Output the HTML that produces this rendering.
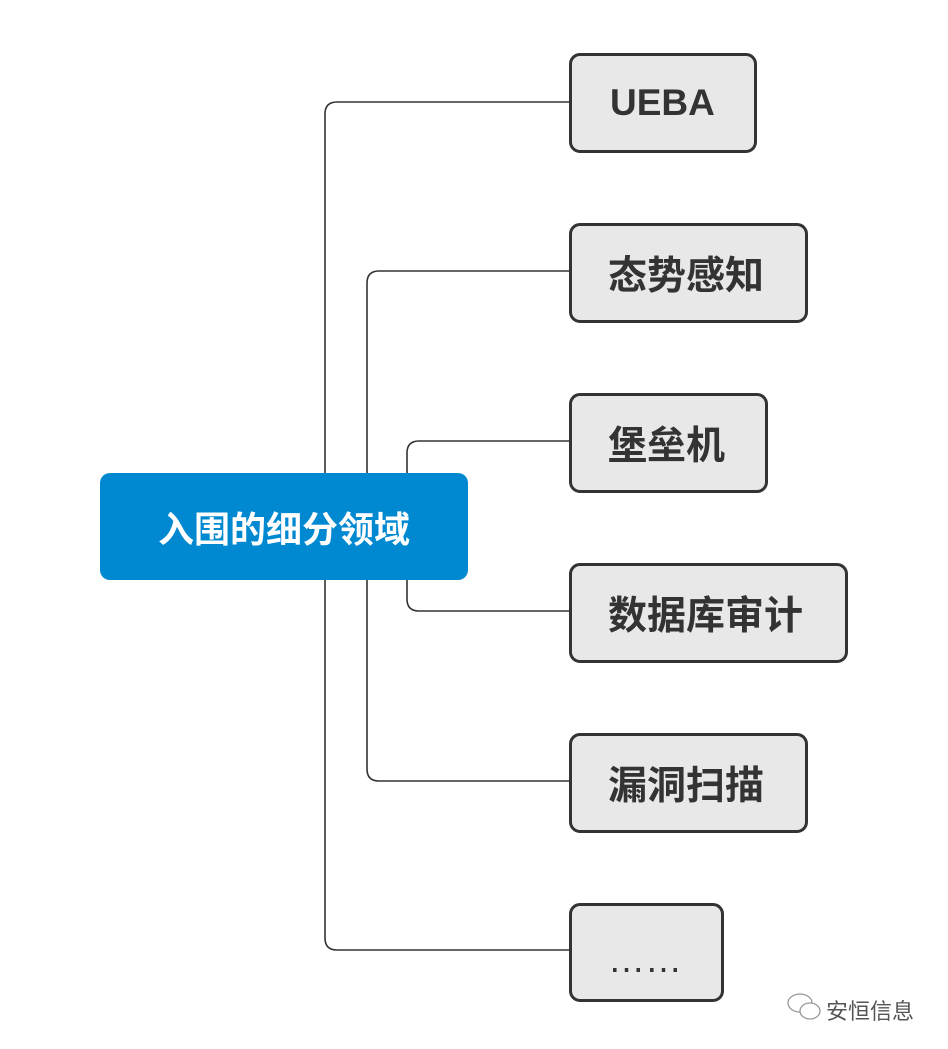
<!DOCTYPE html>
<html><head><meta charset="utf-8"><style>
body{margin:0;width:948px;height:1049px;background:#fff;position:relative;overflow:hidden;font-family:"Liberation Sans","Noto Sans CJK SC",sans-serif}
.b{position:absolute;box-sizing:border-box;border:3px solid #333;background:#e8e8e8;border-radius:11px;display:flex;align-items:center;justify-content:flex-start;padding-left:36px;color:#333;font-size:39px;font-weight:bold}
.c{position:absolute;left:100px;top:473px;width:368px;height:107px;background:#0088d1;border-radius:10px;color:#fff;font-size:36px;font-weight:bold;display:flex;align-items:center;justify-content:center}
svg{position:absolute;left:0;top:0}
.w{position:absolute;left:826px;top:994px;font-size:22px;color:#555}
</style></head><body>
<svg width="948" height="1049"><g fill="none" stroke="#333" stroke-width="1.6">
<path d="M570 102H337Q325 102 325 114V938Q325 950 337 950H570"/>
<path d="M570 271H379Q367 271 367 283V769Q367 781 379 781H570"/>
<path d="M570 441H419Q407 441 407 453V599Q407 611 419 611H570"/>
</g>
<g fill="#fff" stroke="#999" stroke-width="1.3">
<ellipse cx="800" cy="1003" rx="12" ry="9"/>
<ellipse cx="810" cy="1011" rx="10" ry="8"/>
</g></svg>
<div class="c">入围的细分领域</div>
<div class="b" style="left:569px;top:53px;width:188px;height:100px;font-size:37px;padding-left:38px">UEBA</div>
<div class="b" style="left:569px;top:223px;width:239px;height:100px">态势感知</div>
<div class="b" style="left:569px;top:393px;width:199px;height:100px">堡垒机</div>
<div class="b" style="left:569px;top:563px;width:279px;height:100px">数据库审计</div>
<div class="b" style="left:569px;top:733px;width:239px;height:100px">漏洞扫描</div>
<div class="b" style="left:569px;top:903px;width:155px;height:99px;font-weight:normal;font-size:37px;padding-left:36px;padding-top:14px">……</div>
<div class="w">安恒信息</div>
</body></html>
